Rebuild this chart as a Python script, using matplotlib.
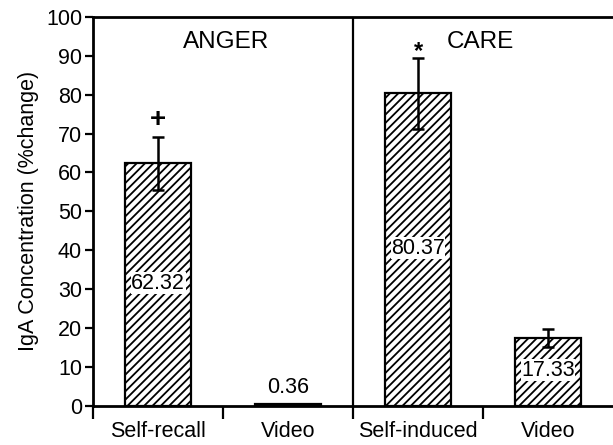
import matplotlib.pyplot as plt

plt.rcParams['font.family'] = ['Liberation Sans', 'DejaVu Sans']
plt.rcParams['hatch.linewidth'] = 1.3

categories = ["Self-recall", "Video", "Self-induced", "Video"]
values = [62.32, 0.36, 80.37, 17.33]
errors = [6.9, 0.0, 9.1, 2.3]
value_labels = ["62.32", "0.36", "80.37", "17.33"]
label_y = [31.5, 4.6, 40.5, 9.2]
signif = ["+", "", "*", ""]
signif_y = [73.5, 0, 91.0, 0]
panels = ["ANGER", "CARE"]

fig = plt.figure(figsize=(6.13, 4.45), dpi=100)
ax = fig.add_axes([0.152, 0.088, 0.848, 0.874])

x = list(range(len(categories)))
ax.bar(x, values, width=0.51, color="white", edgecolor="black",
       linewidth=1.6, hatch="////", zorder=2)
for i in x:
    if errors[i] > 0:
        ax.errorbar(i, values[i], yerr=errors[i], fmt="none", ecolor="black",
                    elinewidth=1.8, capsize=4, capthick=1.8, zorder=3)
    if i == 1:
        ax.text(i, label_y[i], value_labels[i], ha="center", va="center", fontsize=15.5)
    else:
        ax.text(i, label_y[i], value_labels[i], ha="center", va="center", fontsize=15.5,
                bbox=dict(facecolor="white", edgecolor="none", pad=0.3), zorder=4)
    if signif[i]:
        ax.text(i, signif_y[i], signif[i], ha="center", va="center",
                fontsize=20 if signif[i] == "+" else 17, fontweight="bold")

ax.text(0.52, 93.5, panels[0], ha="center", va="center", fontsize=17.5)
ax.text(2.48, 93.5, panels[1], ha="center", va="center", fontsize=17.5)

ax.axvline(1.5, color="black", linewidth=1.6)
ax.set_xlim(-0.5, 3.5)
ax.set_ylim(0, 100)
ax.set_yticks(range(0, 101, 10))
ax.set_xticks([-0.5, 0.5, 1.5, 2.5])
ax.set_xticklabels([])
ax.set_xticks(x, minor=True)
ax.set_xticklabels(categories, minor=True, fontsize=15.5)
ax.tick_params(axis="x", which="major", direction="out", length=9, width=1.6)
ax.tick_params(axis="x", which="minor", length=0, pad=11)
ax.tick_params(axis="y", direction="out", length=6, width=1.6, labelsize=15.5, pad=2)
ax.set_ylabel("IgA Concentration (%change)", fontsize=15.5, labelpad=5)
for s in ["left", "bottom", "top"]:
    ax.spines[s].set_linewidth(2)
ax.spines["right"].set_visible(False)

plt.savefig("out.png", dpi=100)
